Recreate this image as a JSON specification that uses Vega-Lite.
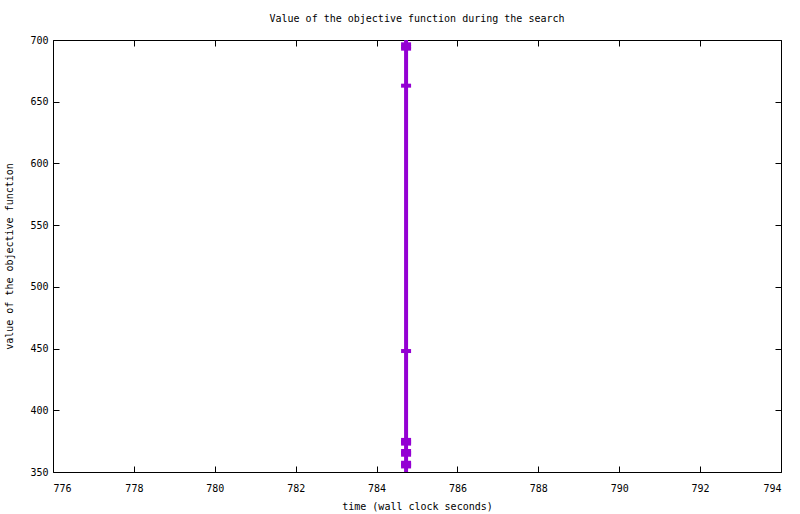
{
  "$schema": "https://vega.github.io/schema/vega-lite/v6.json",
  "width": 728,
  "height": 432,
  "autosize": {"type": "none"},
  "padding": {"left": 53, "top": 40, "right": 19, "bottom": 42},
  "background": "white",
  "title": {"text": "Value of the objective function during the search", "font": "DejaVu Sans Mono", "fontSize": 10, "fontWeight": "normal", "color": "black", "offset": 11, "anchor": "middle"},
  "config": {
    "view": {"stroke": "black", "strokeWidth": 1},
    "axis": {"labelFont": "DejaVu Sans Mono", "labelFontSize": 10, "labelColor": "black", "titleFont": "DejaVu Sans Mono", "titleFontSize": 10, "titleFontWeight": "normal", "titleColor": "black", "grid": false, "domain": false, "tickColor": "black", "tickSize": -6, "labelPadding": 10}
  },
  "data": {"values": [
    {"t": 784.73, "v": 720},
    {"t": 784.73, "v": 696.5},
    {"t": 784.73, "v": 694.5},
    {"t": 784.73, "v": 693},
    {"t": 784.73, "v": 663},
    {"t": 784.73, "v": 448},
    {"t": 784.73, "v": 376},
    {"t": 784.73, "v": 374.5},
    {"t": 784.73, "v": 373},
    {"t": 784.73, "v": 367},
    {"t": 784.73, "v": 365.5},
    {"t": 784.73, "v": 364},
    {"t": 784.73, "v": 357.5},
    {"t": 784.73, "v": 356},
    {"t": 784.73, "v": 354.5},
    {"t": 784.73, "v": 340}
  ]},
  "layer": [
    {
      "mark": {"type": "line", "color": "#9400D3", "strokeWidth": 4, "clip": true},
      "encoding": {
        "x": {"field": "t", "type": "quantitative", "scale": {"domain": [776, 794], "nice": false, "zero": false}, "axis": {"title": "time (wall clock seconds)", "values": [776, 778, 780, 782, 784, 786, 788, 790, 792, 794], "labelPadding": 17, "titlePadding": 8}},
        "y": {"field": "v", "type": "quantitative", "scale": {"domain": [350, 700], "nice": false, "zero": false}, "axis": {"title": "value of the objective function", "values": [350, 400, 450, 500, 550, 600, 650, 700], "labelPadding": 11, "titlePadding": 15}},
        "order": {"field": "v", "sort": "descending"}
      }
    },
    {
      "mark": {"type": "tick", "orient": "horizontal", "color": "#9400D3", "size": 10, "thickness": 4, "opacity": 1, "clip": true},
      "encoding": {
        "x": {"field": "t", "type": "quantitative", "axis": {"orient": "top", "labels": false, "title": null, "values": [776, 778, 780, 782, 784, 786, 788, 790, 792, 794]}},
        "y": {"field": "v", "type": "quantitative", "axis": {"orient": "right", "labels": false, "title": null, "values": [350, 400, 450, 500, 550, 600, 650, 700]}}
      }
    }
  ],
  "resolve": {"axis": {"x": "independent", "y": "independent"}}
}
